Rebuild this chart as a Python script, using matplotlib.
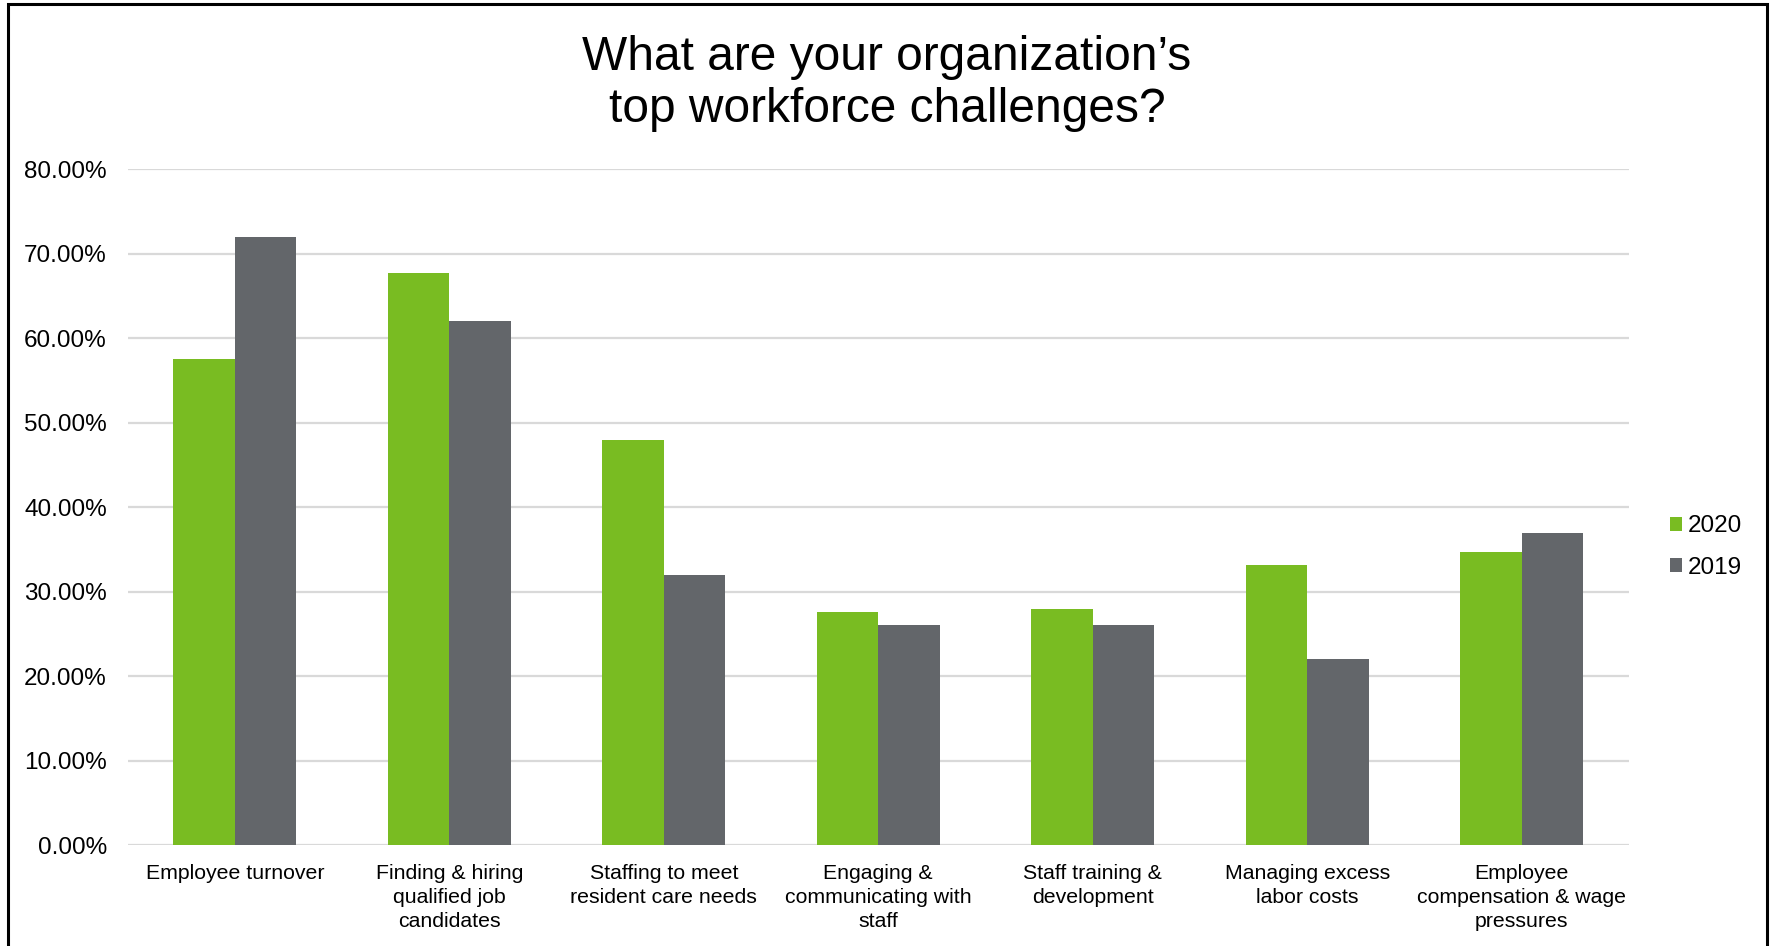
import matplotlib
matplotlib.use("Agg")
import matplotlib.pyplot as plt
from matplotlib.patches import Rectangle
from matplotlib.ticker import PercentFormatter
import numpy as np

plt.rcParams['font.family'] = ['Liberation Sans', 'DejaVu Sans']

title = "What are your organization\u2019s\ntop workforce challenges?"
categories = [
    "Employee turnover",
    "Finding & hiring\nqualified job\ncandidates",
    "Staffing to meet\nresident care needs",
    "Engaging &\ncommunicating with\nstaff",
    "Staff training &\ndevelopment",
    "Managing excess\nlabor costs",
    "Employee\ncompensation & wage\npressures",
]
series_names = ["2020", "2019"]
values_2020 = [57.6, 67.7, 47.9, 27.6, 27.9, 33.2, 34.7]
values_2019 = [72.0, 62.0, 32.0, 26.0, 26.0, 22.0, 37.0]
y_ticks = [0, 10, 20, 30, 40, 50, 60, 70, 80]

GREEN = "#79BC22"
GRAY = "#63666A"
GRID = "#D9D9D9"

W, H = 1771, 946
fig = plt.figure(figsize=(W / 100, H / 100), dpi=100)
ax = fig.add_axes([127.6 / W, 1 - 845 / H, (1629 - 127.6) / W, (845 - 169.4) / H])

x = np.arange(len(categories))
bw = 0.286
b1 = ax.bar(x - bw / 2, values_2020, bw, color=GREEN, label=series_names[0], zorder=3)
b2 = ax.bar(x + bw / 2, values_2019, bw, color=GRAY, label=series_names[1], zorder=3)

ax.set_xlim(-0.5, len(categories) - 0.5)
ax.set_ylim(0, 80)
ax.set_yticks(y_ticks)
ax.yaxis.set_major_formatter(PercentFormatter(decimals=2))
ax.set_xticks(x)
ax.set_xticklabels(categories, fontsize=15.3, linespacing=1.33, va="top")
ax.tick_params(axis="x", length=0, pad=14)
ax.tick_params(axis="y", length=0, pad=15, labelsize=17.5)
ax.grid(axis="y", color=GRID, linewidth=1.6, zorder=0)
for s in ax.spines.values():
    s.set_visible(False)

fig.text(887 / W, 1 - 84 / H, title, ha="center", va="center", fontsize=34.5, linespacing=1.2)

fig.legend(handles=[b1, b2], labels=series_names, loc="center left",
           bbox_to_anchor=(1670 / W, 1 - 547 / H), frameon=False, fontsize=17.5,
           handlelength=0.5, handleheight=0.5, handletextpad=0.25, labelspacing=0.8,
           borderpad=0, borderaxespad=0)

fig.patches.append(Rectangle((8 / W, -0.01), (1767 - 8) / W, 1.01 - 4 / H,
                             transform=fig.transFigure, fill=False,
                             edgecolor="black", linewidth=2.2))

fig.savefig("out.png", dpi=100, facecolor="white")
